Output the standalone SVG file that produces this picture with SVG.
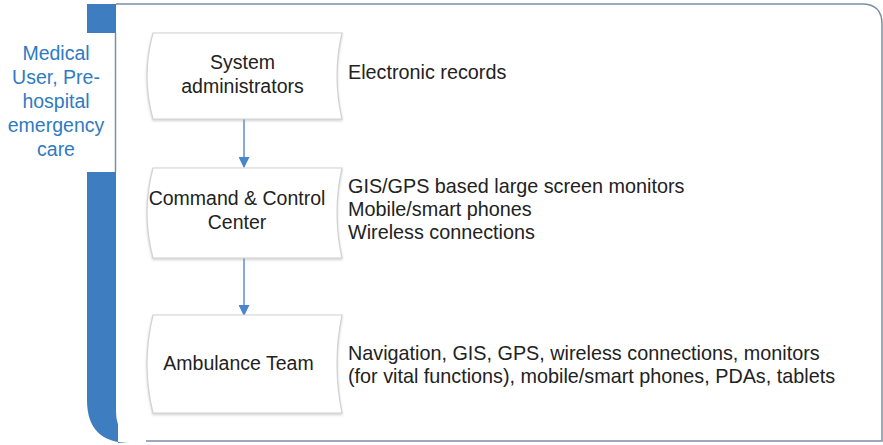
<svg xmlns="http://www.w3.org/2000/svg" width="883" height="445" viewBox="0 0 883 445">
  <defs>
    <style>
      text { font-family: "Liberation Sans", Arial, Helvetica, sans-serif; }
      .label { font-size: 19.8px; fill: #222; }
      .side { font-size: 19.5px; fill: #2f7bc2; text-anchor: middle; }
      .node-text { font-size: 19.5px; fill: #222; text-anchor: middle; }
      .node-shape { fill: #ffffff; stroke: #d2d2d2; stroke-width: 1.2; filter: url(#soft); }
      .link { stroke: #5b8fcf; stroke-width: 1.5; fill: none; marker-end: url(#head); }
    </style>
    <filter id="soft" x="-10%" y="-10%" width="120%" height="130%">
      <feDropShadow dx="0" dy="1.5" stdDeviation="1" flood-color="#9a9a9a" flood-opacity="0.45"/>
    </filter>
    <marker id="head" viewBox="0 0 10 10" refX="9" refY="5" markerWidth="11" markerHeight="11" markerUnits="userSpaceOnUse" orient="auto">
      <path d="M0,0 L10,5 L0,10 Z" fill="#4a86cb"/>
    </marker>
  </defs>

  <!-- left bracket bar -->
  <g id="bracket">
    <rect x="87" y="4" width="30" height="29" fill="#3f7dc1"/>
    <path d="M87,172 H118 V443 H130 Q87,443 87,400 Z" fill="#3f7dc1"/>
  </g>

  <!-- main panel -->
  <g id="panel">
    <path d="M116,4 H862 Q882,4 882,24 V441 H146 Q116,441 116,411 Z" fill="#ffffff" stroke="none"/>
    <path d="M116,4 H862 Q882,4 882,24 V441 H146" fill="none" stroke="#7c8daa" stroke-width="1.5"/>
    <line x1="115.5" y1="33" x2="115.5" y2="172" stroke="#7c8daa" stroke-width="1.5"/>
  </g>

  <g id="side-label">
    <text class="side" x="56" y="60">Medical</text>
    <text class="side" x="56" y="84">User, Pre-</text>
    <text class="side" x="56" y="108">hospital</text>
    <text class="side" x="56" y="132">emergency</text>
    <text class="side" x="56" y="156">care</text>
  </g>

  <!-- connectors -->
  <g id="connectors">
    <line class="link" x1="244" y1="119" x2="244" y2="167"/>
    <line class="link" x1="244" y1="258" x2="244" y2="315"/>
  </g>

  <g id="node-sysadmin">
    <path class="node-shape" d="M153,33 L342,33 Q332,76 342,119 L153,119 Q141,76 153,33 Z"/>
    <text class="node-text" x="242.5" y="69">System</text>
    <text class="node-text" x="242.5" y="93">administrators</text>
    <text class="label" x="348" y="79">Electronic records</text>
  </g>

  <g id="node-command">
    <path class="node-shape" d="M153,168 L342,168 Q332,213 342,258 L153,258 Q141,213 153,168 Z"/>
    <text class="node-text" x="237" y="205">Command &amp; Control</text>
    <text class="node-text" x="237" y="229">Center</text>
    <text class="label" x="348" y="193">GIS/GPS based large screen monitors</text>
    <text class="label" x="348" y="216">Mobile/smart phones</text>
    <text class="label" x="348" y="239">Wireless connections</text>
  </g>

  <g id="node-ambulance">
    <path class="node-shape" d="M153,315 L342,315 Q332,364 342,413 L153,413 Q141,364 153,315 Z"/>
    <text class="node-text" x="238.5" y="370">Ambulance Team</text>
    <text class="label" x="348" y="360">Navigation, GIS, GPS, wireless connections, monitors</text>
    <text class="label" x="348" y="383">(for vital functions), mobile/smart phones, PDAs, tablets</text>
  </g>
</svg>
